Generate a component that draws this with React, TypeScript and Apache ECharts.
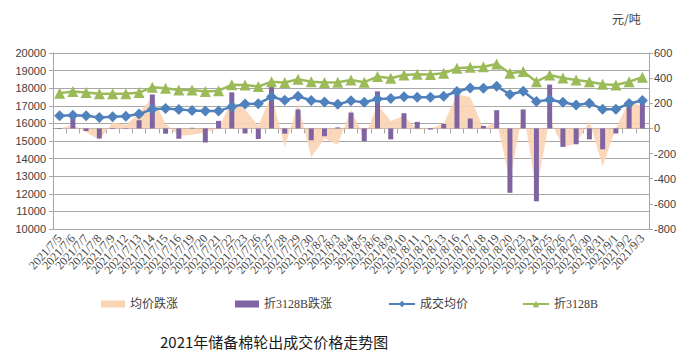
import React, { useEffect, useRef } from "react";
import * as echarts from "echarts";

const dates = [
  "2021/7/5", "2021/7/6", "2021/7/7", "2021/7/8", "2021/7/9",
  "2021/7/12", "2021/7/13", "2021/7/14", "2021/7/15", "2021/7/16",
  "2021/7/19", "2021/7/20", "2021/7/21", "2021/7/22", "2021/7/23",
  "2021/7/26", "2021/7/27", "2021/7/28", "2021/7/29", "2021/7/30",
  "2021/8/2", "2021/8/3", "2021/8/4", "2021/8/5", "2021/8/6",
  "2021/8/9", "2021/8/10", "2021/8/11", "2021/8/12", "2021/8/13",
  "2021/8/16", "2021/8/17", "2021/8/18", "2021/8/19", "2021/8/20",
  "2021/8/23", "2021/8/24", "2021/8/25", "2021/8/26", "2021/8/27",
  "2021/8/30", "2021/8/31", "2021/9/1", "2021/9/2", "2021/9/3",
];

// 成交均价 (left axis)
const avgPrice = [
  16430, 16460, 16430, 16330, 16380, 16410, 16530, 16810, 16850, 16790,
  16740, 16710, 16710, 16940, 17100, 17120, 17510, 17310, 17540, 17300,
  17220, 17090, 17280, 17200, 17390, 17420, 17510, 17490, 17490, 17540,
  17810, 18010, 18000, 18110, 17640, 17830, 17240, 17340, 17200, 17050,
  17150, 16810, 16810, 17130, 17300,
];

// 折3128B (left axis)
const price3128 = [
  17720, 17810, 17750, 17680, 17680, 17680, 17750, 18050, 18000, 17900,
  17900, 17810, 17860, 18190, 18180, 18090, 18370, 18320, 18510, 18370,
  18320, 18340, 18470, 18340, 18660, 18570, 18750, 18790, 18780, 18850,
  19130, 19190, 19220, 19370, 18850, 18950, 18370, 18750, 18580, 18470,
  18370, 18220, 18180, 18370, 18620,
];

// 均价跌涨 (right axis, area)
const avgChange = [
  0, 30, -30, -90, 50, 30, 120, 250, 40, -60,
  -50, -30, 0, 220, 150, 20, 270, -150, 200, -230,
  -80, -130, 150, -80, 190, 60, 100, -10, 0, 40,
  270, 250, 0, 60, -420, 150, -500, 80, -150, -120,
  60, -300, 0, 220, 170,
];

// 折3128B跌涨 (right axis, bars)
const change3128 = [
  -5, 90, -20, -80, -5, -5, 65, 270, -42, -82,
  5, -112, 60, 287, -40, -85, 330, -42, 151, -94,
  -62, 8, 126, -102, 295, -87, 121, 52, -9, 35,
  295, 79, 20, 145, -512, 151, -580, 349, -147, -126,
  -87, -166, -40, 200, 240,
];

const leftTicks = { min: 10000, max: 20000, interval: 1000 };
const rightTicks = { min: -800, max: 600, interval: 200 };

const seriesNames = ["均价跌涨", "折3128B跌涨", "成交均价", "折3128B"];

export default function App() {
  const ref = useRef<HTMLDivElement>(null);
  useEffect(() => {
    if (!ref.current) return;
    const chart = echarts.init(ref.current, null, { renderer: "svg" });
    const axisGray = "#A6A6A6";
    const labelColor = "#404040";
    const legendText = { fontSize: 12, color: "#404040", fontFamily: "Liberation Serif, Noto Sans CJK SC" };
    chart.setOption({
      animation: false,
      backgroundColor: "#ffffff",
      title: {
        text: "2021年储备棉轮出成交价格走势图",
        left: 155,
        top: 329,
        textStyle: { fontSize: 15, fontWeight: "normal", color: "#1a1a1a", fontFamily: "Noto Sans CJK SC" },
      },
      graphic: [
        {
          type: "text",
          left: 612,
          top: 12,
          style: { text: "元/吨", fontSize: 12, fill: "#404040", fontFamily: "Noto Sans CJK SC" },
        },
      ],
      legend: [
        { data: [{ name: seriesNames[0], icon: "rect" }], left: 96, top: 293, itemWidth: 24, itemHeight: 7, itemGap: 4, textStyle: legendText },
        { data: [{ name: seriesNames[1], icon: "rect" }], left: 230, top: 293, itemWidth: 24, itemHeight: 7, itemGap: 4, textStyle: legendText },
        { data: [seriesNames[2]], left: 383, top: 293, itemWidth: 26, itemHeight: 8, itemGap: 4, textStyle: legendText },
        { data: [seriesNames[3]], left: 517, top: 293, itemWidth: 26, itemHeight: 8, itemGap: 4, textStyle: legendText },
      ],
      grid: { left: 53, right: 43, top: 53, bottom: 126 },
      xAxis: {
        type: "category",
        data: dates,
        boundaryGap: true,
        axisLine: { lineStyle: { color: axisGray } },
        axisTick: { show: true, length: 5, lineStyle: { color: axisGray } },
        axisLabel: {
          interval: 0,
          rotate: 48,
          margin: 7,
          fontSize: 12,
          color: labelColor,
          fontFamily: "Liberation Serif",
        },
      },
      yAxis: [
        {
          type: "value",
          ...leftTicks,
          axisLine: { show: true, lineStyle: { color: axisGray } },
          axisTick: { show: true, length: 4, lineStyle: { color: axisGray } },
          axisLabel: { fontSize: 11, color: labelColor, margin: 7, fontFamily: "Liberation Sans", formatter: (v: number) => String(v) },
          splitLine: { show: true, lineStyle: { color: "#A8A8A8", width: 1 } },
        },
        {
          type: "value",
          position: "right",
          ...rightTicks,
          axisLine: { show: true, lineStyle: { color: axisGray } },
          axisTick: { show: true, length: 4, lineStyle: { color: axisGray } },
          axisLabel: { fontSize: 11, color: labelColor, margin: 5, fontFamily: "Liberation Sans", formatter: (v: number) => String(v) },
          splitLine: { show: false },
        },
      ],
      series: [
        {
          name: seriesNames[0],
          type: "line",
          yAxisIndex: 1,
          data: avgChange,
          symbol: "none",
          itemStyle: { color: "#FBD4B4" },
          lineStyle: { width: 0, color: "#FBD4B4" },
          areaStyle: { color: "#FBD4B4", opacity: 0.9 },
          z: 1,
        },
        {
          name: seriesNames[1],
          type: "bar",
          yAxisIndex: 1,
          data: change3128,
          barWidth: 5,
          itemStyle: { color: "#8064A2" },
          z: 2,
        },
        {
          name: seriesNames[2],
          type: "line",
          yAxisIndex: 0,
          data: avgPrice,
          symbol: "diamond",
          symbolSize: 11,
          itemStyle: { color: "#4F81BD" },
          lineStyle: { color: "#4F81BD", width: 2.5 },
          z: 3,
        },
        {
          name: seriesNames[3],
          type: "line",
          yAxisIndex: 0,
          data: price3128,
          symbol: "triangle",
          symbolSize: 11,
          itemStyle: { color: "#9BBB59" },
          lineStyle: { color: "#9BBB59", width: 2.5 },
          z: 3,
        },
      ],
    });
    return () => chart.dispose();
  }, []);
  return (
    <div
      ref={ref}
      style={{ position: "absolute", left: 0, top: 0, width: 692, height: 355 }}
    />
  );
}
